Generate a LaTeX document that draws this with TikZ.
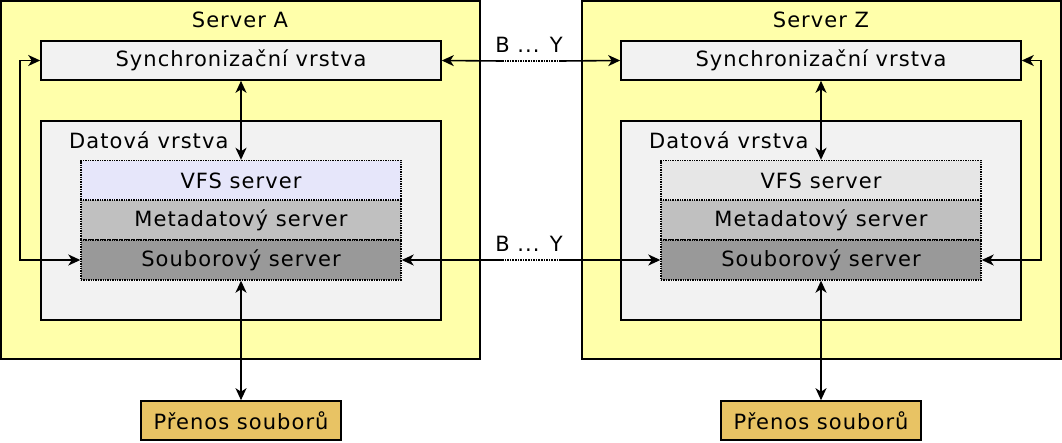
\documentclass[tikz,border=0pt]{standalone}
\usepackage{fontspec}
\setmainfont{DejaVu Sans}[LetterSpace=5]
\usetikzlibrary{arrows.meta}
\definecolor{srvyellow}{HTML}{FFFFAA}
\definecolor{boxgray}{HTML}{F2F2F2}
\definecolor{vfsA}{HTML}{E6E6FA}
\definecolor{vfsZ}{HTML}{E6E6E6}
\definecolor{metagray}{HTML}{C0C0C0}
\definecolor{filegray}{HTML}{999999}
\definecolor{transfer}{HTML}{E8C364}
\begin{document}
\begin{tikzpicture}[x=1pt,y=-1pt,
  font=\fontsize{21}{25}\selectfont,
  server/.style={draw,line width=2pt,fill=srvyellow},
  plainbox/.style={draw,line width=1.6pt,fill=boxgray,inner sep=0pt,minimum width=400pt,minimum height=39pt},
  layerbox/.style={draw,densely dotted,line width=1.4pt,inner sep=0pt,minimum width=320pt,minimum height=40pt},
  xferbox/.style={draw,line width=1.6pt,fill=transfer,inner sep=0pt,minimum width=200pt,minimum height=39pt},
  tip/.tip={Stealth[length=12pt,width=11pt,inset=3.5pt]},
  conn/.style={line width=1.6pt,-tip},
  bconn/.style={line width=1.6pt,tip-tip},
  lbl/.style={inner sep=0pt}]
\useasboundingbox (0,0) rectangle (1062,442);
% servers
\draw[server] (1,1) rectangle (480,359);
\draw[server] (582,1) rectangle (1061,359);
\node[lbl] (tA) at (240,20) {Server A};
\node[lbl] (tZ) at (821,20) {Server Z};
% data layer boxes
\draw[line width=1.6pt,fill=boxgray] (41,121) rectangle (441,320);
\draw[line width=1.6pt,fill=boxgray] (621,121) rectangle (1021,320);
\node[lbl,anchor=west] (dA) at (69,140) {Datová vrstva};
\node[lbl,anchor=west] (dZ) at (649,140) {Datová vrstva};
% sync boxes
\node[plainbox] (syncA) at (241,60.5) {Synchronizační vrstva};
\node[plainbox] (syncZ) at (821,60.5) {Synchronizační vrstva};
% layers A
\node[layerbox,fill=vfsA] (vfsA) at (241,180.5) {VFS server};
\node[layerbox,fill=metagray] (metaA) at (241,220) {Metadatový server};
\node[layerbox,fill=filegray] (fileA) at (241,260) {Souborový server};
% layers Z
\node[layerbox,fill=vfsZ] (vfsZ) at (821,180.5) {VFS server};
\node[layerbox,fill=metagray] (metaZ) at (821,220) {Metadatový server};
\node[layerbox,fill=filegray] (fileZ) at (821,260) {Souborový server};
% transfer boxes
\node[xferbox] (xA) at (241,420.5) {Přenos souborů};
\node[xferbox] (xZ) at (821,420.5) {Přenos souborů};
% vertical connectors
\draw[bconn] (syncA.south) -- (vfsA.north);
\draw[bconn] (syncZ.south) -- (vfsZ.north);
\draw[bconn] (fileA.south) -- (xA.north);
\draw[bconn] (fileZ.south) -- (xZ.north);
% loops
\draw[bconn] (syncA.west) -| (20,260) -- (fileA.west);
\draw[bconn] (syncZ.east) -| (1041,260) -- (fileZ.east);
% inter-server links
\coordinate (s1) at (502,61);
\coordinate (s2) at (560,61);
\coordinate (f1) at (502,260);
\coordinate (f2) at (560,260);
\draw[conn] (s1) -- (syncA.east);
\draw[line width=1.6pt,densely dotted] (s1) -- (s2);
\draw[conn] (s2) -- (syncZ.west);
\draw[conn] (f1) -- (fileA.east);
\draw[line width=1.6pt,densely dotted] (f1) -- (f2);
\draw[conn] (f2) -- (fileZ.west);
\node[lbl] (b1) at (529,45) {B ... Y};
\node[lbl] (b2) at (529,244) {B ... Y};
\end{tikzpicture}
\end{document}
